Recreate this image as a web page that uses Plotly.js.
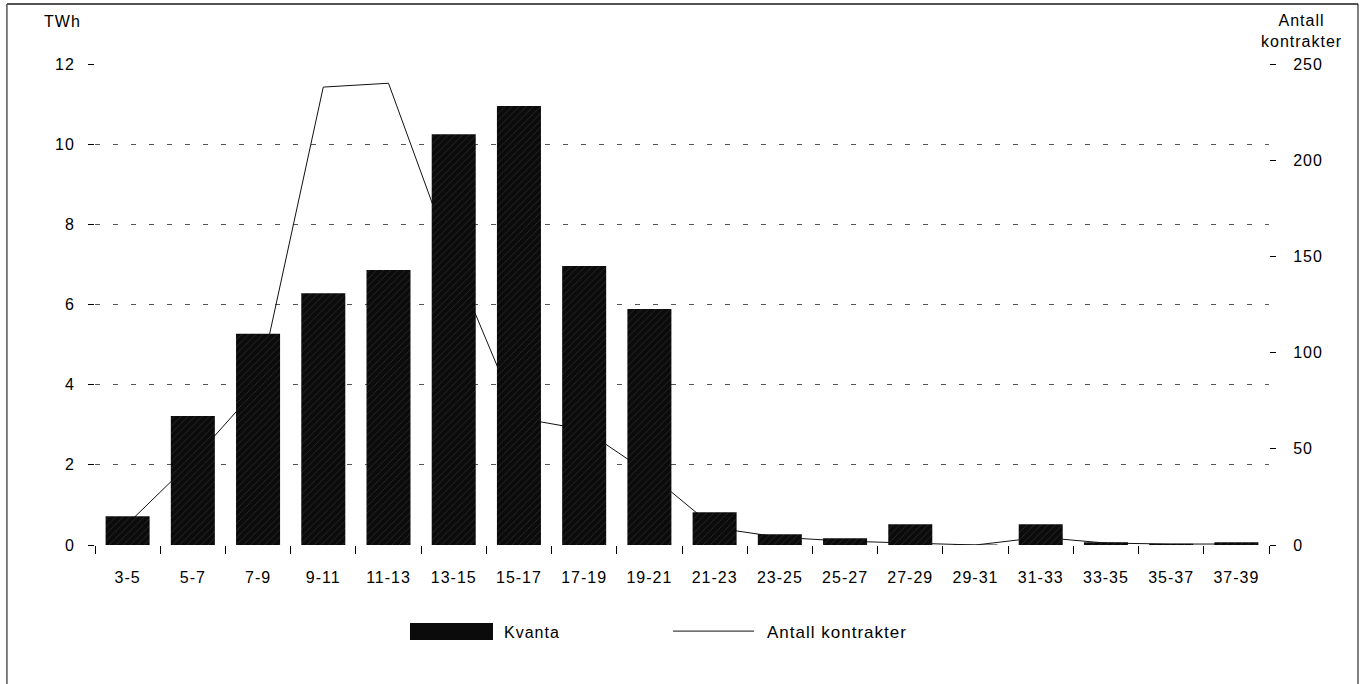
<!DOCTYPE html>
<html>
<head>
<meta charset="utf-8">
<script src="https://cdn.plot.ly/plotly-3.0.1.min.js"></script>
<style>
  html, body { margin: 0; padding: 0; background: #fff; }
  #chart { width: 1360px; height: 684px; }
  svg text { letter-spacing: 1px; }
</style>
</head>
<body>
<div id="chart"></div>
<script>
// Data
const categories = ["3-5","5-7","7-9","9-11","11-13","13-15","15-17","17-19","19-21","21-23","23-25","25-27","27-29","29-31","31-33","33-35","35-37","37-39"];
const kvantaTWh = [0.72, 3.22, 5.27, 6.28, 6.86, 10.25, 10.95, 6.96, 5.89, 0.82, 0.27, 0.17, 0.52, 0.01, 0.52, 0.07, 0.03, 0.07];
const antallKontrakter = [11, 44, 82, 238, 240, 147, 66, 60, 37, 9, 4, 2, 1, 0, 4, 1, 0.5, 0.5];
const leftTicks = [0, 2, 4, 6, 8, 10, 12];
const rightTicks = [0, 50, 100, 150, 200, 250];

const FONT = "Liberation Sans, Arial, sans-serif";

const traces = [
  {
    type: "scatter",
    mode: "lines",
    name: "Antall kontrakter",
    x: categories,
    y: antallKontrakter,
    yaxis: "y2",
    line: { color: "#111", width: 1 },
    zorder: 0,
    showlegend: false,
    hoverinfo: "x+y"
  },
  {
    type: "bar",
    name: "Kvanta",
    x: categories,
    y: kvantaTWh,
    yaxis: "y",
    width: 0.675,
    marker: {
      color: "#0b0b0b",
      line: { width: 0 },
      pattern: { shape: "/", fgcolor: "#383838", bgcolor: "#0b0b0b", size: 5, solidity: 0.12 }
    },
    zorder: 1,
    showlegend: false,
    hoverinfo: "x+y"
  }
];

const layout = {
  width: 1360,
  height: 684,
  paper_bgcolor: "#fff",
  plot_bgcolor: "#fff",
  margin: { l: 95, r: 91, t: 64, b: 139 },
  font: { family: FONT, size: 16, color: "#000" },
  showlegend: false,
  xaxis: {
    type: "category",
    showline: true,
    linecolor: "#000",
    linewidth: 1,
    ticks: "outside",
    tickson: "boundaries",
    ticklen: 8,
    tickcolor: "#000",
    showgrid: false,
    zeroline: false,
    tickfont: { family: FONT, size: 16, color: "#000" },
    ticklabelstandoff: 18
  },
  yaxis: {
    range: [0, 12],
    tickvals: leftTicks,
    ticktext: leftTicks.map(String),
    showline: true,
    linecolor: "#000",
    linewidth: 1,
    ticks: "outside",
    ticklen: 6,
    tickcolor: "#000",
    showgrid: true,
    gridcolor: "#555",
    gridwidth: 1,
    griddash: "5px,13px",
    zeroline: false,
    tickfont: { family: FONT, size: 16, color: "#000" },
    ticklabelstandoff: 10
  },
  yaxis2: {
    range: [0, 250],
    tickvals: rightTicks,
    ticktext: rightTicks.map(String),
    overlaying: "y",
    side: "right",
    showline: true,
    linecolor: "#000",
    linewidth: 1,
    ticks: "outside",
    ticklen: 6,
    tickcolor: "#000",
    showgrid: false,
    zeroline: false,
    tickfont: { family: FONT, size: 16, color: "#000" },
    ticklabelstandoff: 14
  },
  annotations: [
    { text: "TWh", xref: "paper", yref: "paper", x: -0.0273, y: 1.088, showarrow: false,
      xanchor: "center", yanchor: "middle", font: { family: FONT, size: 16, color: "#000" } },
    { text: "Antall<br>kontrakter", xref: "paper", yref: "paper", x: 1.028, y: 1.0676, showarrow: false,
      xanchor: "center", yanchor: "middle", align: "center", font: { family: FONT, size: 16, color: "#000" } },
    { text: "Kvanta", xref: "paper", yref: "paper", x: 0.3467, y: -0.181, showarrow: false,
      xanchor: "left", yanchor: "middle", font: { family: FONT, size: 16, color: "#000" } },
    { text: "Antall kontrakter", xref: "paper", yref: "paper", x: 0.5707, y: -0.181, showarrow: false,
      xanchor: "left", yanchor: "middle", font: { family: FONT, size: 17, color: "#000" } }
  ],
  shapes: [
    // legend swatches
    { type: "rect", xref: "paper", yref: "paper", x0: 0.2683, x1: 0.339, y0: -0.1975, y1: -0.1622,
      fillcolor: "#0b0b0b", line: { width: 0 } },
    { type: "line", xref: "paper", yref: "paper", x0: 0.4923, x1: 0.5614, y0: -0.179, y1: -0.179,
      line: { color: "#111", width: 1 } },
    // outer frame
    { type: "line", xref: "paper", yref: "paper", x0: -0.075, x1: -0.075, y0: 1.1247, y1: -0.3,
      line: { color: "#000", width: 1 } },
    { type: "line", xref: "paper", yref: "paper", x0: -0.075, x1: 1.0758, y0: 1.1247, y1: 1.1247,
      line: { color: "#555", width: 2 } },
    { type: "line", xref: "paper", yref: "paper", x0: 1.0758, x1: 1.0758, y0: 1.1247, y1: -0.3,
      line: { color: "#000", width: 1 } }
  ]
};

Plotly.newPlot("chart", traces, layout, { displayModeBar: false, staticPlot: true });
</script>
</body>
</html>
